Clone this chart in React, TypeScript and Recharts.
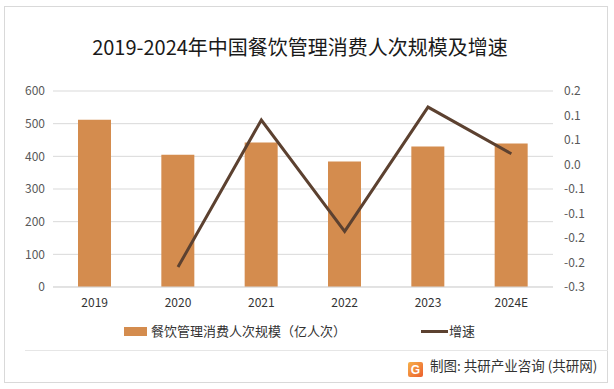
import React from 'react';
import { ComposedChart, Bar, Line, XAxis, YAxis, CartesianGrid } from 'recharts';

const categories = ['2019', '2020', '2021', '2022', '2023', '2024E'];
const visits = [512, 405, 442, 384, 430, 439];
const growth: (number | null)[] = [null, -0.249, 0.126, -0.158, 0.159, 0.04];
const leftTicks = [0, 100, 200, 300, 400, 500, 600];
const rightTicks = [-0.3, -0.2375, -0.175, -0.1125, -0.05, 0.0125, 0.075, 0.1375, 0.2];
const rightTickLabels = ['-0.3', '-0.2', '-0.2', '-0.1', '-0.1', '0.0', '0.1', '0.1', '0.2'];

const data = categories.map((c, i) => ({ name: c, visits: visits[i], growth: growth[i] }));

const BAR = '#D48C4E';
const LINE = '#5C4130';
const FONT = '"Noto Sans CJK SC", "Noto Sans", sans-serif';

const LegendContent = () => (
  <div style={{ position: 'absolute', left: 0, top: 320, width: 614, height: 24, fontFamily: FONT, fontSize: 13, color: '#333' }}>
    <div style={{ position: 'absolute', left: 124, top: 7, width: 23, height: 9, background: BAR }} />
    <div style={{ position: 'absolute', left: 151, top: 2, lineHeight: '18px' }}>餐饮管理消费人次规模（亿人次）</div>
    <div style={{ position: 'absolute', left: 421, top: 10, width: 27, height: 3, background: LINE }} />
    <div style={{ position: 'absolute', left: 449, top: 2, lineHeight: '18px' }}>增速</div>
  </div>
);

export default function App() {
  return (
    <div style={{ position: 'absolute', left: 0, top: 0, width: 614, height: 389, background: '#fff', fontFamily: FONT }}>
      <div style={{ position: 'absolute', left: 4, top: 6, width: 604, height: 377, border: '1px solid #d9d9d9', boxSizing: 'border-box' }} />
      <div style={{ position: 'absolute', left: 25, top: 350, width: 583, height: 1, background: '#e6e6e6' }} />
      <div style={{ position: 'absolute', left: 0, top: 33, width: 600, textAlign: 'center', fontSize: 20, color: '#1a1a1a', lineHeight: '28px' }}>
        2019-2024年中国餐饮管理消费人次规模及增速
      </div>
      <div style={{ position: 'absolute', left: 0, top: 0 }}>
        <ComposedChart width={614} height={389} data={data} margin={{ top: 91, right: 0, bottom: 72, left: 0 }}>
          <CartesianGrid horizontal={true} vertical={false} stroke="#d9d9d9" yAxisId="left" />
          <XAxis
            dataKey="name"
            tickLine={false}
            axisLine={{ stroke: '#d9d9d9' }}
            tick={{ fill: '#333', fontSize: 12, fontFamily: FONT }}
            tickMargin={5}
            height={30}
          />
          <YAxis
            yAxisId="left"
            domain={[0, 600]}
            ticks={leftTicks}
            width={53}
            tickLine={false}
            axisLine={false}
            tick={{ fill: '#595959', fontSize: 12, fontFamily: FONT }}
          />
          <YAxis
            yAxisId="right"
            orientation="right"
            domain={[-0.3, 0.2]}
            ticks={rightTicks}
            width={61}
            tickLine={false}
            axisLine={false}
            tickMargin={5}
            tickFormatter={(v: number) => {
              const idx = rightTicks.findIndex((t) => Math.abs(t - v) < 1e-6);
              return idx >= 0 ? rightTickLabels[idx] : '';
            }}
            tick={{ fill: '#595959', fontSize: 12, fontFamily: FONT, textAnchor: 'start' }}
            interval={0}
          />
          <Bar yAxisId="left" dataKey="visits" fill={BAR} barSize={33} isAnimationActive={false} />
          <Line
            yAxisId="right"
            dataKey="growth"
            stroke={LINE}
            strokeWidth={3}
            dot={false}
            activeDot={false}
            type="linear"
            isAnimationActive={false}
          />
        </ComposedChart>
      </div>
      <LegendContent />
      <div style={{ position: 'absolute', left: 408, top: 358, width: 15, height: 15 }}>
        <svg width={15} height={15}>
          <defs>
            <linearGradient id="lg" x1="0" y1="0" x2="1" y2="1">
              <stop offset="0" stopColor="#f6b14a" />
              <stop offset="1" stopColor="#ec5f2e" />
            </linearGradient>
          </defs>
          <rect x={0} y={0} width={15} height={15} rx={2} fill="url(#lg)" />
          <text x={7.5} y={12} textAnchor="middle" fontSize={12} fontWeight="bold" fill="#fff" fontFamily="sans-serif">G</text>
        </svg>
      </div>
      <div style={{ position: 'absolute', left: 430, top: 356, fontSize: 13.5, color: '#333', lineHeight: '18px', whiteSpace: 'nowrap' }}>
        制图: 共研产业咨询 (共研网)
      </div>
    </div>
  );
}
